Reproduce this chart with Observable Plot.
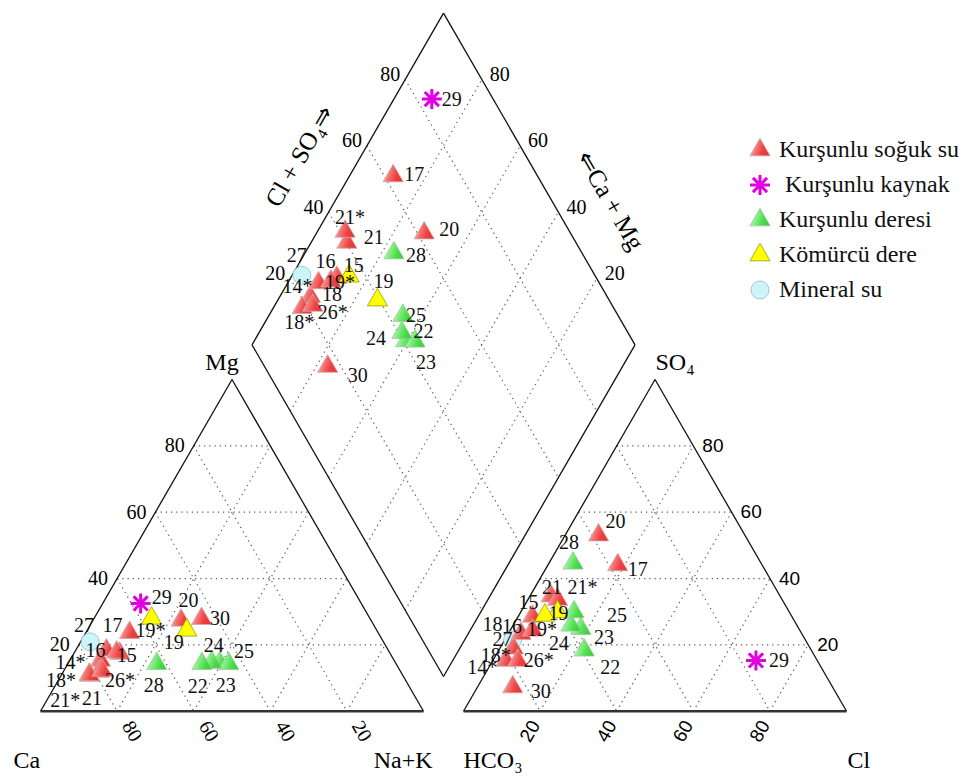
<!DOCTYPE html>
<html>
<head>
<meta charset="utf-8">
<script src="https://cdn.jsdelivr.net/npm/d3@7"></script>
<script src="https://cdn.jsdelivr.net/npm/@observablehq/plot@0.6"></script>
<style>
  body { margin: 0; background: #fff; }
  #wrap { position: relative; width: 968px; height: 776px; font-family: "Liberation Serif", "Times New Roman", serif; }
  #wrap > svg { position: absolute; left: 0; top: 0; }
  #legend { position: absolute; left: 748px; top: 132px; }
  .row { display: flex; align-items: center; height: 35px; font-size: 24px; color: #111; white-space: nowrap; }
  .row svg { width: 24px; height: 24px; margin-right: 7px; flex: none; overflow: visible; }
</style>
</head>
<body>
<svg width="0" height="0" style="position:absolute">
  <defs>
    <linearGradient id="gRed" x1="0" y1="0.2" x2="1" y2="0.5">
      <stop offset="0" stop-color="#fff2f2"/>
      <stop offset="0.35" stop-color="#f67b7b"/>
      <stop offset="0.7" stop-color="#ee4242"/>
      <stop offset="1" stop-color="#e63535"/>
    </linearGradient>
    <linearGradient id="gGreen" x1="0" y1="0.2" x2="1" y2="0.5">
      <stop offset="0" stop-color="#eeffee"/>
      <stop offset="0.35" stop-color="#8ef08e"/>
      <stop offset="0.7" stop-color="#4fdf4f"/>
      <stop offset="1" stop-color="#3ccf3c"/>
    </linearGradient>
  </defs>
</svg>
<div id="wrap"><div id="legend"></div></div>
<script>
// ---- Piper diagram data (percent of meq/l) ----
const ticks = [20, 40, 60, 80];

const groupNames = ["Kurşunlu soğuk su", "Kurşunlu kaynak", "Kurşunlu deresi", "Kömürcü dere", "Mineral su"];

const sampleIds = ["14*", "15", "16", "17", "18", "18*", "19", "19*", "20", "21",
                   "21*", "22", "23", "24", "25", "26*", "27", "28", "29", "30"];
const sampleGroup = [
  "Kurşunlu soğuk su", "Kurşunlu soğuk su", "Kurşunlu soğuk su", "Kurşunlu soğuk su", "Kurşunlu soğuk su",
  "Kurşunlu soğuk su", "Kömürcü dere", "Kömürcü dere", "Kurşunlu soğuk su", "Kurşunlu soğuk su",
  "Kurşunlu soğuk su", "Kurşunlu deresi", "Kurşunlu deresi", "Kurşunlu deresi", "Kurşunlu deresi",
  "Kurşunlu soğuk su", "Mineral su", "Kurşunlu deresi", "Kurşunlu kaynak", "Kurşunlu soğuk su"
];

// cations
const ca  = [76.7, 70.6, 73.6, 64.9, 71.2, 81.7, 49.6, 57.0, 44.0, 78.7, 81.8, 45.9, 43.7, 47.9, 50.7, 77.8, 76.6, 62.5, 57.6, 49.6];
const mg  = [15.3, 17.4, 18.4, 23.7, 17.8, 10.8, 24.4, 28.0, 27.9, 12.0, 11.0, 14.6, 14.3, 14.8, 14.3, 12.3, 20.9, 14.3, 32.5, 27.4];
const nak = [ 8.0, 12.0,  8.0, 11.4, 11.0,  7.5, 26.0, 15.0, 28.1,  9.3,  7.2, 39.5, 42.0, 37.3, 35.0,  9.9,  2.5, 23.2,  9.9, 23.0];
// anions
const hco3 = [77.5, 67.7, 73.3, 37.7, 69.8, 81.3, 60.5, 64.3, 38.2, 59.8, 58.6, 59.3, 56.9, 59.0, 56.2, 78.2, 76.5, 49.1, 16.0, 83.5];
const so4  = [19.0, 28.6, 23.4, 44.1, 24.4, 15.3, 29.9, 28.9, 53.1, 34.7, 33.7, 18.4, 24.9, 25.9, 29.9, 15.3, 21.4, 44.6, 15.3,  7.3];
const cl   = [ 3.5,  3.7,  3.3, 18.2,  5.8,  3.4,  9.6,  6.8,  8.7,  5.5,  7.7, 22.3, 18.2, 15.1, 13.9,  6.5,  2.1,  6.3, 68.7,  9.2];

// ---- layout of the three fields (in percent units) ----
const S = Math.sqrt(3) / 2;
const GAP = 10.45;                 // space between the two triangles
const X0 = 40, Y0 = 710.7, PX = 3.83; // scale ranges: pixels per percent unit

function cationXY(c, m, n) {
  const t = c + m + n, M = 100 * m / t, N = 100 * n / t;
  return [N + M / 2, M * S];
}
function anionXY(h, s, c) {
  const t = h + s + c, SO = 100 * s / t, CL = 100 * c / t;
  return [100 + GAP + CL + SO / 2, SO * S];
}
// diamond: cation Na+K % and anion Cl+SO4 %
function diamondXY(a, b) {
  return [100 + GAP / 2 - (100 - a) / 2 + b / 2, GAP * S + S * ((100 - a) + b)];
}

// label placement around each symbol, in pixels [dx, dy]
const labelNudge = {
  cation: {"14*": [-30, 2], "15": [7, 2], "16": [-11, 0], "17": [-17, -7], "18*": [-29, 5],
    "19": [-13, 12], "19*": [-1, 12], "20": [-13, -18], "21": [-7, 27], "21*": [-24, 26],
    "22": [-22, 24], "23": [-3, 22], "24": [2, -17], "25": [42, -12], "26*": [18, 10],
    "27": [-6, -16], "28": [-3, 22], "29": [21, -6], "30": [39, -2]},
  anion: {"14*": [-31, 19], "15": [-4, -14], "16": [-9, -7], "17": [20, 5], "18": [-40, -6],
    "18*": [-10, -5], "19": [1, 2], "19*": [-3, 14], "20": [17, -13], "21": [1, -9],
    "21*": [25, -12], "22": [26, 17], "23": [23, 9], "24": [-12, 18], "25": [43, 4],
    "26*": [21, 0], "27": [-10, -1], "28": [-4, -21], "29": [23, 0], "30": [28, 5]},
  diamond: {"14*": [-13, -10], "15": [17, -12], "16": [7, -21], "17": [21, -1], "18": [1, 13],
    "18*": [-3, 15], "19": [6, -18], "19*": [-9, 6], "20": [25, -3], "21": [27, -5],
    "21*": [5, -14], "22": [18, -9], "23": [11, 21], "24": [-26, 6], "25": [13, 0],
    "26*": [20, 7], "27": [-5, -20], "28": [22, 3], "29": [20, 1], "30": [30, 9]}
};

// eight-armed asterisk
const star8 = {
  draw(context, size) {
    const r = Math.sqrt(size / Math.PI);
    for (let k = 0; k < 4; ++k) {
      const a = k * Math.PI / 4, c = Math.cos(a) * r, s = Math.sin(a) * r;
      context.moveTo(-c, -s);
      context.lineTo(c, s);
    }
  }
};

const groupStyle = {
  "Kurşunlu soğuk su": {symbol: "triangle", fill: "url(#gRed)", stroke: "#cfa6a6", strokeWidth: 0.8, r: 7.5},
  "Kurşunlu kaynak":   {symbol: star8, fill: "none", stroke: "#e000e0", strokeWidth: 3, r: 10},
  "Kurşunlu deresi":   {symbol: "triangle", fill: "url(#gGreen)", stroke: "#9ac79a", strokeWidth: 0.8, r: 7.5},
  "Kömürcü dere":      {symbol: "triangle", fill: "#ffff00", stroke: "#a09a00", strokeWidth: 0.8, r: 7.5},
  "Mineral su":        {symbol: "circle", fill: "#ccf5f9", stroke: "#8cbccb", strokeWidth: 0.8, r: 9}
};
const drawOrder = ["Mineral su", "Kurşunlu soğuk su", "Kömürcü dere", "Kurşunlu deresi", "Kurşunlu kaynak"];

// ---- derived geometry ----
const points = sampleIds.flatMap((id, i) => {
  const group = sampleGroup[i];
  const nakPct = 100 * nak[i] / (ca[i] + mg[i] + nak[i]);
  const anPct = 100 * (so4[i] + cl[i]) / (hco3[i] + so4[i] + cl[i]);
  const c = cationXY(ca[i], mg[i], nak[i]);
  const a = anionXY(hco3[i], so4[i], cl[i]);
  const d = diamondXY(nakPct, anPct);
  return [
    {id, group, panel: "cation", x: c[0], y: c[1]},
    {id, group, panel: "anion", x: a[0], y: a[1]},
    {id, group, panel: "diamond", x: d[0], y: d[1]}
  ];
});
const labels = points
  .filter(p => labelNudge[p.panel][p.id])
  .map(p => {
    const [dx, dy] = labelNudge[p.panel][p.id];
    return {...p, lx: p.x + dx / PX, ly: p.y - dy / PX};
  });

const corner = {
  Ca: cationXY(100, 0, 0), NaK: cationXY(0, 0, 100), Mg: cationXY(0, 100, 0),
  HCO3: anionXY(100, 0, 0), Cl: anionXY(0, 0, 100), SO4: anionXY(0, 100, 0),
  dB: diamondXY(100, 0), dL: diamondXY(0, 0), dT: diamondXY(0, 100), dR: diamondXY(100, 100)
};
const seg = (p, q) => ({x1: p[0], y1: p[1], x2: q[0], y2: q[1]});
const bases = [seg(corner.Ca, corner.NaK), seg(corner.HCO3, corner.Cl)];
const edges = [
  seg(corner.Ca, corner.Mg), seg(corner.Mg, corner.NaK),
  seg(corner.HCO3, corner.SO4), seg(corner.SO4, corner.Cl),
  seg(corner.dB, corner.dL), seg(corner.dL, corner.dT), seg(corner.dT, corner.dR), seg(corner.dR, corner.dB)
];
const grid = ticks.flatMap(t => [
  seg(cationXY(100 - t, t, 0), cationXY(0, t, 100 - t)),
  seg(cationXY(t, 100 - t, 0), cationXY(t, 0, 100 - t)),
  seg(cationXY(100 - t, 0, t), cationXY(0, 100 - t, t)),
  seg(anionXY(100 - t, t, 0), anionXY(0, t, 100 - t)),
  seg(anionXY(t, 100 - t, 0), anionXY(t, 0, 100 - t)),
  seg(anionXY(100 - t, 0, t), anionXY(0, 100 - t, t)),
  seg(diamondXY(t, 0), diamondXY(t, 100)),
  seg(diamondXY(0, t), diamondXY(100, t))
]);

const serif = '"Liberation Serif", "Times New Roman", serif';
const sans = '"Liberation Sans", Arial, sans-serif';
const tickText = (at, opts) => Plot.text(ticks.map(t => ({t, p: at(t)})),
  {x: d => d.p[0], y: d => d.p[1], text: d => String(d.t), fontSize: 20, fontFamily: serif, ...opts});
const cornerText = (p, label, opts) => Plot.text([p],
  {x: d => d[0], y: d => d[1], text: () => label, fontSize: 24, fontFamily: serif, ...opts});

const chart = Plot.plot({
  width: 968,
  height: 776,
  margin: 0,
  x: {domain: [0, 100], range: [X0, X0 + 100 * PX], axis: null},
  y: {domain: [0, 100], range: [Y0, Y0 - 100 * PX], axis: null},
  style: {background: "#fff"},
  marks: [
    Plot.link(grid, {x1: "x1", y1: "y1", x2: "x2", y2: "y2", stroke: "#555", strokeWidth: 1.2, strokeDasharray: "1.2,4"}),
    Plot.link(edges, {x1: "x1", y1: "y1", x2: "x2", y2: "y2", stroke: "#111", strokeWidth: 1.3}),
    Plot.link(bases, {x1: "x1", y1: "y1", x2: "x2", y2: "y2", stroke: "#333", strokeWidth: 2.4}),

    // scale labels
    tickText(t => cationXY(t, 0, 100 - t), {rotate: 60, dx: 15, dy: 20}),
    tickText(t => cationXY(100 - t, t, 0), {textAnchor: "end", dx: -9}),
    tickText(t => anionXY(100 - t, 0, t), {rotate: -60, dx: -10, dy: 20, fontFamily: sans, fontSize: 19}),
    tickText(t => anionXY(0, t, 100 - t), {textAnchor: "start", dx: 9, fontFamily: sans, fontSize: 19}),
    tickText(t => diamondXY(0, t), {textAnchor: "end", dx: -5, dy: -5}),
    tickText(t => diamondXY(100 - t, 100), {textAnchor: "start", dx: 8, dy: -5}),

    // corner and axis titles
    cornerText(corner.Ca, "Ca", {textAnchor: "start", dx: -27, dy: 49}),
    cornerText(corner.NaK, "Na+K", {textAnchor: "end", dx: 9, dy: 49}),
    cornerText(corner.HCO3, "HCO₃", {textAnchor: "start", dx: 0, dy: 49}),
    cornerText(corner.Cl, "Cl", {textAnchor: "start", dx: 1, dy: 49}),
    cornerText(corner.Mg, "Mg", {dx: -10, dy: -17}),
    cornerText(corner.SO4, "SO₄", {dx: 20, dy: -17}),
    cornerText(diamondXY(0, 49), "Cl + SO₄⇒", {rotate: -60, dx: -46, dy: -26, fontSize: 25}),
    cornerText(diamondXY(64, 100), "⇐Ca + Mg", {rotate: 60, dx: 44, dy: -25, fontSize: 25}),

    // samples
    ...drawOrder.map(g => {
      const st = groupStyle[g];
      return Plot.dot(points.filter(p => p.group === g), {
        x: "x", y: "y", symbol: st.symbol, r: st.r,
        fill: st.fill, stroke: st.stroke, strokeWidth: st.strokeWidth
      });
    }),
    Plot.text(labels, {x: "lx", y: "ly", text: "id", fontSize: 20, fontFamily: serif, fill: "#111"})
  ]
});
document.getElementById("wrap").prepend(chart);

// legend
const symbolType = {triangle: d3.symbolTriangle, circle: d3.symbolCircle};
const legend = d3.select("#legend");
groupNames.forEach(g => {
  const st = groupStyle[g];
  const row = legend.append("div").attr("class", "row");
  const svg = row.append("svg").attr("viewBox", "-12 -12 24 24");
  const type = typeof st.symbol === "string" ? symbolType[st.symbol] : st.symbol;
  svg.append("path")
    .attr("d", d3.symbol(type, Math.PI * st.r * st.r)())
    .attr("fill", st.fill).attr("stroke", st.stroke).attr("stroke-width", st.strokeWidth);
  row.append("span").text(g).style("padding-left", g === "Kurşunlu kaynak" ? "6px" : "0px");
});
</script>
</body>
</html>
